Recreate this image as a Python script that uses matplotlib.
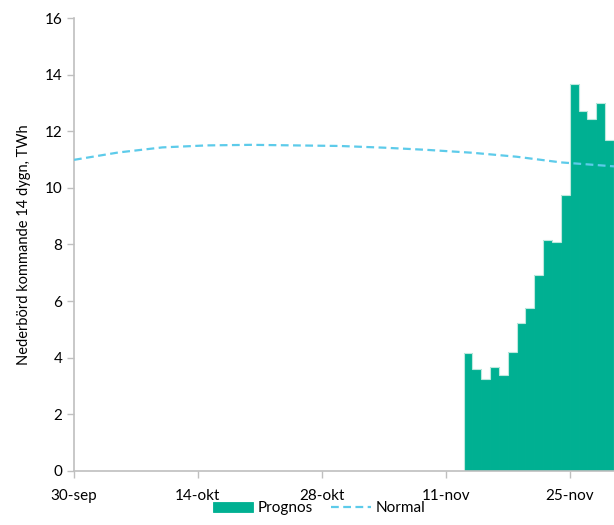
import matplotlib
matplotlib.use('Agg')
import matplotlib.pyplot as plt
import numpy as np
import pandas as pd

# x axis runs 30-sep .. 30-nov
start = pd.Timestamp('2019-09-30')
end = pd.Timestamp('2019-11-30')

# daily forecast bars (13-nov .. 29-nov)
prognos_start = pd.Timestamp('2019-11-13')
prognos = [4.16, 3.60, 3.25, 3.66, 3.39, 4.19, 5.23, 5.74, 6.93, 8.15,
           8.10, 9.74, 13.66, 12.71, 12.43, 13.00, 11.70]

# normal curve, read every 5 days
normal_days = [0, 5, 10, 15, 20, 25, 30, 35, 40, 45, 50, 55, 61]
normal = [10.99, 11.25, 11.43, 11.50, 11.52, 11.50, 11.48, 11.42, 11.34,
          11.24, 11.10, 10.90, 10.76]

tick_labels = ['30-sep', '14-okt', '28-okt', '11-nov', '25-nov']

teal = '#00B092'
blue = '#5DCBEA'
grey = '#BFBFBF'

plt.rcParams['font.family'] = ['Lato', 'DejaVu Sans']

fig = plt.figure(figsize=(6.14, 5.25), dpi=100)
ax = fig.add_axes([0.1205, 0.1029, 0.8795, 0.8628])

bar_x = [(prognos_start - start).days + i for i in range(len(prognos))]
bars = ax.bar(bar_x, prognos, width=1.0, align='edge', color=teal,
              edgecolor=teal, linewidth=0.6, zorder=2)
# light outline along the top of the bars
edges = bar_x + [bar_x[-1] + 1]
ax.stairs(prognos, edges, color='#BDE9DE', linewidth=0.8, zorder=2.5)
line, = ax.plot(normal_days, normal, color=blue, linestyle=(0, (3.5, 2)),
                linewidth=1.6, zorder=3)

ax.set_xlim(0, (end - start).days)
ax.set_ylim(0, 16)
ax.set_yticks(np.arange(0, 17, 2))
ax.set_xticks([0, 14, 28, 42, 56])
ax.set_xticklabels(tick_labels)

for s in ['top', 'right']:
    ax.spines[s].set_visible(False)
for s in ['left', 'bottom']:
    ax.spines[s].set_color(grey)
    ax.spines[s].set_linewidth(1.2)
ax.tick_params(axis='both', colors=grey, labelcolor='black', labelsize=11,
               length=5, width=1)
ax.tick_params(axis='x', pad=8)

ax.set_ylabel('Nederbörd kommande 14 dygn, TWh', fontsize=10.5, labelpad=10)

fig.legend([bars, line], ['Prognos', 'Normal'], loc='lower center',
           bbox_to_anchor=(0.52, -0.008), ncol=2, frameon=False, fontsize=11,
           handlelength=2.6, handleheight=0.6, columnspacing=1.2,
           handletextpad=0.3)

fig.savefig('out.png', dpi=100)
